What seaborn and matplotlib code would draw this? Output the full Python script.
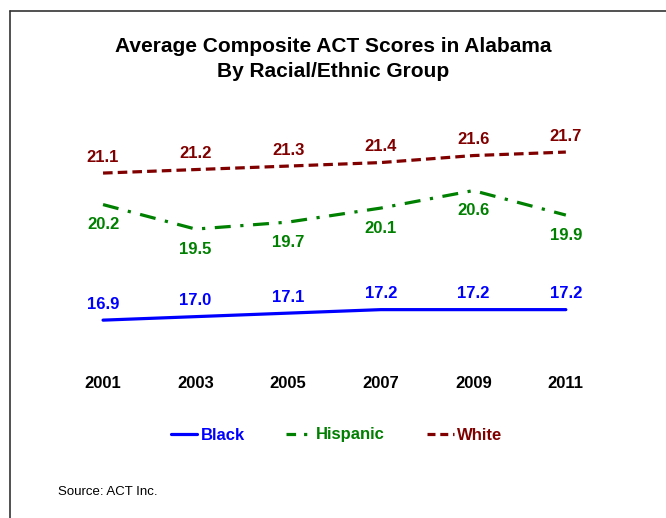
import matplotlib
matplotlib.use("Agg")
import matplotlib.pyplot as plt
from matplotlib.lines import Line2D
import seaborn as sns
import pandas as pd

# Average composite ACT scores, Alabama
years = [2001, 2003, 2005, 2007, 2009, 2011]
black = [16.9, 17.0, 17.1, 17.2, 17.2, 17.2]
hispanic = [20.2, 19.5, 19.7, 20.1, 20.6, 19.9]
white = [21.1, 21.2, 21.3, 21.4, 21.6, 21.7]
groups = ["Black", "Hispanic", "White"]
colors = {"Black": "#0000FF", "Hispanic": "#008000", "White": "#800000"}
dashes = {"Black": "", "Hispanic": (5, 3, 1, 3), "White": (3, 1.6)}
legend_dashes = {"Black": (None, None), "Hispanic": (3, 2.5, 1, 2.5), "White": (2.5, 1.5)}

df = pd.DataFrame({
    "Year": years * 3,
    "Score": black + hispanic + white,
    "Group": ["Black"] * 6 + ["Hispanic"] * 6 + ["White"] * 6,
})

sns.set_style("white")
plt.rcParams["font.family"] = ["Liberation Sans", "DejaVu Sans"]
plt.rcParams["text.color"] = "black"
plt.rcParams["xtick.color"] = "black"

W, H = 666, 518
fig = plt.figure(figsize=(W / 100, H / 100), dpi=100)
# axes placed in pixel terms: left 60, right 620, top 130, bottom 345
ax = fig.add_axes([60 / W, 1 - 345 / H, 560 / W, 215 / H])

sns.lineplot(data=df, x="Year", y="Score", hue="Group", style="Group",
             palette=colors, dashes=dashes, linewidth=2.3, legend=False, ax=ax)

ax.set_xlim(2000.07, 2012.17)
ax.set_ylim(16.19, 22.33)
sns.despine(ax=ax, left=True, bottom=True)
ax.set_yticks([])
ax.set_xticks(years)
ax.set_xticklabels([str(y) for y in years], fontsize=12, fontweight="bold")
ax.tick_params(axis="x", length=0, pad=22)
ax.set_xlabel("")
ax.set_ylabel("")

# value labels
offsets = {"Black": 6, "Hispanic": -9, "White": 6}
for g, vals in zip(groups, [black, hispanic, white]):
    for x, v in zip(years, vals):
        ax.annotate(f"{v:.1f}", (x, v), xytext=(0, offsets[g]),
                    textcoords="offset points", ha="center",
                    va="bottom" if offsets[g] > 0 else "top",
                    color=colors[g], fontsize=12, fontweight="bold")

fig.text(0.5, 1 - 47 / H, "Average Composite ACT Scores in Alabama",
         ha="center", va="center", fontsize=15, fontweight="bold")
fig.text(0.5, 1 - 72 / H, "By Racial/Ethnic Group",
         ha="center", va="center", fontsize=15, fontweight="bold")

handles = [Line2D([], [], color=colors[g], linewidth=2.3, dashes=legend_dashes[g])
           for g in groups]
leg = fig.legend(handles, groups, loc="center", bbox_to_anchor=(0.505, 1 - 435 / H),
                 ncol=3, frameon=False, handlelength=1.6, handletextpad=0.2,
                 columnspacing=2.5, prop={"weight": "bold", "size": 12})
for t, g in zip(leg.get_texts(), groups):
    t.set_color(colors[g])

fig.text(58 / W, 1 - 492 / H, "Source: ACT Inc.", ha="left", va="center", fontsize=9.5)

# slide border (left and top edges)
fig.add_artist(Line2D([10.5 / W, 10.5 / W], [0, 1 - 10.5 / H], transform=fig.transFigure,
                      color="#333333", linewidth=1.2))
fig.add_artist(Line2D([10.5 / W, 1], [1 - 10.5 / H, 1 - 10.5 / H], transform=fig.transFigure,
                      color="#333333", linewidth=1.2))

fig.savefig("out.png", dpi=100)
